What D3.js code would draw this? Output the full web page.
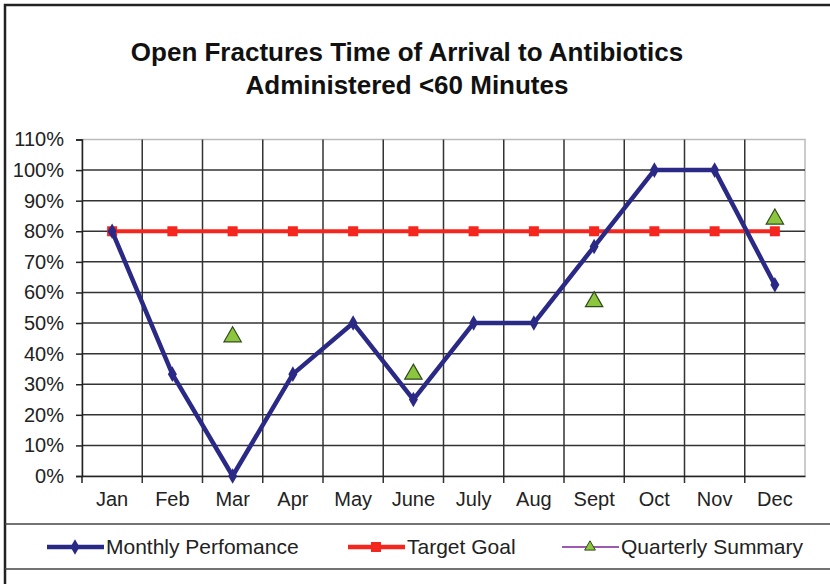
<!DOCTYPE html>
<html><head><meta charset="utf-8">
<script src="https://cdn.jsdelivr.net/npm/d3@7"></script>
<style>body{margin:0;background:#fff;}svg{display:block;font-family:Arial,"Liberation Sans",sans-serif;}</style>
</head><body>
<script>
const months = ["Jan","Feb","Mar","Apr","May","June","July","Aug","Sept","Oct","Nov","Dec"];
const monthly = [80, 33.3, 0, 33.3, 50, 25, 50, 50, 75, 100, 100, 62.5];
const target = [80, 80, 80, 80, 80, 80, 80, 80, 80, 80, 80, 80];
const quarterMonths = ["Mar","June","Sept","Dec"];
const quarterly = [45.5, 33.3, 57, 84];
const yTicks = [0,10,20,30,40,50,60,70,80,90,100,110];
const titleLines = ["Open Fractures Time of Arrival to Antibiotics","Administered <60 Minutes"];
const legendItems = ["Monthly Perfomance","Target Goal","Quarterly Summary"];

const W=830,H=584;
const svg=d3.select("body").append("svg").attr("width",W).attr("height",H);
svg.append("rect").attr("width",W).attr("height",H).attr("fill","#fff");

// outer frame
svg.append("path").attr("d","M5,"+H+"V5H"+W).attr("fill","none").attr("stroke","#222").attr("stroke-width",2.5);
svg.append("line").attr("x1",5).attr("x2",W).attr("y1",524).attr("y2",524).attr("stroke","#444").attr("stroke-width",1.5);
svg.append("line").attr("x1",5).attr("x2",W).attr("y1",569).attr("y2",569).attr("stroke","#444").attr("stroke-width",1.5);

// title
svg.append("g").selectAll("text").data(titleLines).join("text")
  .attr("x",407).attr("y",(d,i)=>61+i*33).attr("text-anchor","middle")
  .attr("font-size",26).attr("font-weight","bold").attr("fill","#111").text(d=>d);

const L=82,R=805,T=139.5,B=476;
const x=d3.scaleBand().domain(months).range([L,R]);
const y=d3.scaleLinear().domain([0,110]).range([B,T]);

// plot border
svg.append("rect").attr("x",L).attr("y",T).attr("width",R-L).attr("height",B-T).attr("fill","none").attr("stroke","#bbb").attr("stroke-width",1.5);

// horizontal grid
svg.append("g").selectAll("line").data(yTicks.filter(v=>v>0&&v<110)).join("line")
  .attr("x1",L).attr("x2",R).attr("y1",d=>y(d)).attr("y2",d=>y(d)).attr("stroke","#333").attr("stroke-width",1.5);
// vertical grid
const bounds=months.slice(1).map(m=>x(m));
svg.append("g").selectAll("line").data(bounds).join("line")
  .attr("x1",d=>d).attr("x2",d=>d).attr("y1",T).attr("y2",B+7).attr("stroke","#333").attr("stroke-width",1.5);

// axes
const yAxis=svg.append("g").attr("transform",`translate(${L},0)`)
  .call(d3.axisLeft(y).tickValues(yTicks).tickFormat(d=>d+"%").tickSize(6).tickPadding(12));
yAxis.select(".domain").attr("stroke","#222").attr("stroke-width",1.5);
yAxis.selectAll(".tick line").attr("stroke","#222").attr("stroke-width",1.5);
yAxis.selectAll("text").attr("font-size",20).attr("fill","#222").attr("font-family","Arial,'Liberation Sans',sans-serif");

const xAxis=svg.append("g").attr("transform",`translate(0,${B})`)
  .call(d3.axisBottom(x).tickSize(0).tickPadding(16));
xAxis.select(".domain").attr("stroke","#222").attr("stroke-width",1.5);
xAxis.selectAll("text").attr("font-size",20).attr("fill","#222").attr("font-family","Arial,'Liberation Sans',sans-serif");
svg.append("line").attr("x1",L).attr("x2",L).attr("y1",B).attr("y2",B+7).attr("stroke","#222").attr("stroke-width",1.5);

const cx=m=>x(m)+x.bandwidth()/2;
const NAVY="#2a2a86",RED="#f4261e",GREEN="#8cc63f";

// target
svg.append("path").datum(target).attr("fill","none").attr("stroke",RED).attr("stroke-width",4)
  .attr("d",d3.line().x((d,i)=>cx(months[i])).y(d=>y(d)));
svg.append("g").selectAll("rect").data(target).join("rect")
  .attr("x",(d,i)=>cx(months[i])-5).attr("y",d=>y(d)-5).attr("width",10).attr("height",10).attr("fill",RED);

// monthly
svg.append("path").datum(monthly).attr("fill","none").attr("stroke",NAVY).attr("stroke-width",4.5).attr("stroke-linejoin","round")
  .attr("d",d3.line().x((d,i)=>cx(months[i])).y(d=>y(d)));
const diamond=d3.symbol().type(d3.symbolDiamond).size(70);
svg.append("g").selectAll("path").data(monthly).join("path")
  .attr("transform",(d,i)=>`translate(${cx(months[i])},${y(d)})`).attr("d",diamond).attr("fill",NAVY);

// quarterly triangles
const tri=d3.symbol().type(d3.symbolTriangle).size(130);
svg.append("g").selectAll("path").data(quarterly).join("path")
  .attr("transform",(d,i)=>`translate(${cx(quarterMonths[i])},${y(d)})`).attr("d",tri)
  .attr("fill",GREEN).attr("stroke","#2f4a1a").attr("stroke-width",1.2);

// legend
const lg=svg.append("g");
const ly=547;
const lx=[47,348,562];
const colors=[NAVY,RED,"#9a5bb0"];
legendItems.forEach((t,i)=>{
  lg.append("line").attr("x1",lx[i]).attr("x2",lx[i]+57).attr("y1",ly).attr("y2",ly).attr("stroke",colors[i]).attr("stroke-width",i==2?2:4.5);
  const mx=lx[i]+28;
  if(i==0) lg.append("path").attr("transform",`translate(${mx},${ly})`).attr("d",diamond).attr("fill",NAVY);
  if(i==1) lg.append("rect").attr("x",mx-5).attr("y",ly-5).attr("width",10).attr("height",10).attr("fill",RED);
  if(i==2) lg.append("path").attr("transform",`translate(${mx},${ly})`).attr("d",d3.symbol().type(d3.symbolTriangle).size(50)).attr("fill",GREEN).attr("stroke","#2f4a1a").attr("stroke-width",1);
  lg.append("text").attr("x",lx[i]+59).attr("y",ly+7).attr("font-size",21).attr("fill","#222").text(t);
});
</script>
</body></html>
